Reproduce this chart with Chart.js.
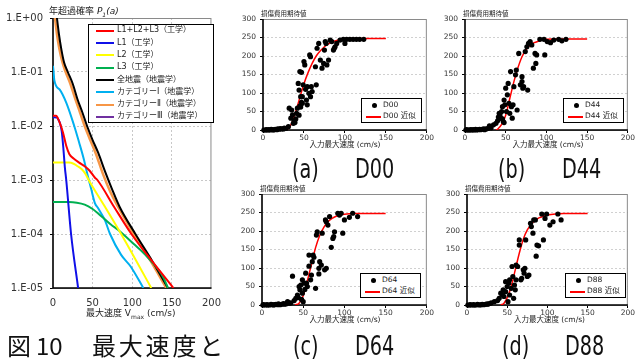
<!DOCTYPE html>
<html>
<head>
<meta charset="utf-8">
<script src="https://cdn.jsdelivr.net/npm/chart.js@4.4.0/dist/chart.umd.min.js"></script>
<style>
body { margin: 0; width: 636px; height: 359px; overflow: hidden; position: relative; background: #fff;
       font-family: "DejaVu Sans", "Noto Sans CJK JP", sans-serif; color: #222; }
canvas, .txt, .legend { position: absolute; }
.txt { white-space: nowrap; line-height: 1; }
.legend { background: #fff; border: 1px solid #000; box-sizing: border-box; }
.row { position: absolute; left: 0; white-space: nowrap; line-height: 1; }
.sample { position: absolute; height: 2px; }
.cap { position: absolute; font-size: 26px; line-height: 1; transform-origin: left top; transform: scaleX(0.74); color: #111; }
.big { position: absolute; font-family: "Noto Sans CJK JP", sans-serif; font-size: 24px; line-height: 1; color: #111; }
</style>
</head>
<body>
<canvas id="probChart" width="230" height="310" style="left:0;top:0"></canvas>
<canvas id="chartA" width="205" height="140" style="left:230px;top:5px"></canvas>
<canvas id="chartB" width="201" height="140" style="left:435px;top:5px"></canvas>
<canvas id="chartC" width="205" height="140" style="left:230px;top:180px"></canvas>
<canvas id="chartD" width="201" height="140" style="left:435px;top:180px"></canvas>

<div class="txt" style="left:49px;top:7px;font-size:9px">年超過確率 <i>P<sub style="font-size:6px">1</sub>(a)</i></div>
<div class="txt" style="left:86px;top:309px;font-size:9px">最大速度 V<sub style="font-size:6px">max</sub> (cm/s)</div>
<div id="probLegend" class="legend" style="left:88px;top:24px;width:126px;height:99px"></div>

<div class="big" style="left:7px;top:333px">図</div>
<div class="big" style="left:36px;top:333px">10</div>
<div class="big" style="left:92px;top:333px;letter-spacing:2.8px">最大速度と</div>

<div id="panelText"></div>

<script>
// Left chart: annual exceedance probability vs max velocity
const speedTicks = [0, 50, 100, 150, 200];
const probTicks = [1, 0.1, 0.01, 0.001, 0.0001, 0.00001];
const costTicks = [0, 50, 100, 150, 200, 250, 300];

const seriesNames = ['L1+L2+L3（工学）', 'L1（工学）', 'L2（工学）', 'L3（工学）',
    '全地震（地震学）', 'カテゴリーⅠ（地震学）', 'カテゴリーⅡ（地震学）', 'カテゴリーⅢ（地震学）'];
const seriesColors = ['#ff0000', '#1010e8', '#ffff00', '#00b050', '#000000', '#00b0f0', '#f79646', '#7030a0'];

// [velocity cm/s, probability]
const sumL = [[0,0.0155],[4,0.0155],[6,0.014],[9,0.011],[12.6,0.0076],[16.7,0.0043],[20.7,0.003],[26,0.0025],
    [33,0.0021],[40,0.0018],[46,0.0015],[53,0.0011],[56,0.001],[77,3.2e-4],[99,1e-4],[126,3e-5],[152,1e-5]];
const l1 = [[0,0.0145],[5,0.0143],[7,0.013],[9,0.011],[11,0.008],[13,0.004],[15,0.0017],[16.7,0.001],[22.8,1e-4],[31.7,1e-5]];
const l2 = [[0,0.0021],[10,0.0021],[20,0.0021],[26,0.002],[31,0.0018],[36,0.0016],[41,0.0013],[45,0.001],
    [65,3.3e-4],[86,1e-4],[105,3.2e-5],[124,1e-5]];
const l3 = [[0,3.9e-4],[20,3.9e-4],[30,3.8e-4],[40,3.5e-4],[50,2.9e-4],[57,2.4e-4],[65,1.9e-4],[73,1.5e-4],
    [82,1.2e-4],[90,9.5e-5],[102,6.5e-5],[114,4.5e-5],[125,3e-5],[134,2.1e-5],[140,1.5e-5],[145,1e-5]];
const allQuake = [[5,1],[6,0.75],[7.5,0.5],[10.6,0.26],[14,0.15],[18.7,0.1],[25,0.06],[31,0.031],[37,0.018],
    [43,0.01],[50,0.0055],[57,0.0032],[66,0.0014],[75,6.5e-4],[84,3.2e-4],[104,1e-4],[125,3.2e-5],[145,1e-5]];
const cat1 = [[0,0.13],[0.8,0.1],[1.6,0.071],[8.5,0.047],[16.7,0.027],[26.8,0.01],[32.9,0.005],[39,0.0024],
    [43,0.00135],[48,7e-4],[53,3.7e-4],[57,3e-4],[65.5,1.8e-4],[72,1e-4],[86,4.1e-5],[98,2.5e-5],[114,1e-5]];
const cat2 = [[2.5,1],[3.5,0.75],[5,0.5],[8,0.27],[12,0.15],[16,0.1],[22,0.06],[28,0.032],[34,0.018],[40,0.01],
    [47,0.0055],[54,0.0031],[63,0.0013],[72,6.2e-4],[82,3.2e-4],[102,1e-4],[123,3.2e-5],[143,1e-5]];
const cat3 = [];

// Right panels: [velocity, expected damage cost]
const d00Points = [[1,0],[3,0],[4,1],[6,0],[7,1],[9,0],[10,2],[12,1],[13,0],[15,2],[17,1],[18,3],[20,2],[21,4],[23,3],[25,3],[26,5],[28,4],
    [31,9],[32,59],[34,32],[35,54],[36,41],[37,18],[38,25],[39,20],[40,30],[41,45],[42,59],[43,126],[44,108],[44,40],[45,158],[45,65],
    [46,90],[46,62],[47,156],[47,75],[48,90],[48,72],[49,122],[50,185],[51,176],[52,110],[53,81],[54,68],[54,117],[56,99],[57,203],
    [58,90],[58,198],[59,117],[60,104],[64,171],[65,122],[66,221],[68,234],[70,189],[72,167],[74,180],[75,216],[76,239],[77,234],
    [78,176],[80,189],[82,243],[84,239],[86,216],[87,221],[88,225],[90,234],[94,243],[98,245],[100,234],[102,245],[106,245],
    [110,245],[114,245],[118,245],[123,245]];
const d00Fit = [[28,0],[30,2],[35,18],[40,50],[45,88],[50,125],[55,155],[60,180],[65,200],[70,214],[75,225],[80,233],[85,238],
    [90,242],[95,244],[100,246],[110,247],[120,247],[130,247],[140,247],[150,247]];

const d44Points = [[1,0],[2,1],[4,0],[5,0],[7,1],[8,0],[10,1],[11,0],[13,2],[14,0],[16,1],[18,2],[19,1],[21,2],[23,3],[24,1],[26,3],[28,4],
    [30,11],[32,6],[35,14],[38,18],[40,25],[41,35],[42,45],[43,41],[44,32],[45,50],[46,63],[46,30],[47,23],[48,81],[48,20],[49,68],
    [50,113],[51,50],[52,95],[53,126],[54,72],[55,45],[56,158],[57,63],[58,32],[59,68],[60,117],[62,149],[63,162],[64,54],[66,207],
    [68,122],[70,131],[70,144],[71,113],[72,117],[74,212],[76,225],[77,108],[78,234],[80,239],[82,230],[84,167],[86,207],[87,180],
    [88,203],[92,245],[97,245],[98,203],[101,239],[105,236],[109,243],[115,245],[119,241],[124,245]];
const d44Fit = [[38,0],[40,2],[45,15],[50,40],[55,85],[60,130],[65,168],[70,198],[75,217],[80,229],[85,236],[90,240],[95,243],
    [100,245],[110,246],[120,246],[130,246],[140,246],[150,246]];

const d64Points = [[1,0],[2,1],[4,0],[6,1],[7,0],[9,0],[11,2],[12,1],[14,0],[15,1],[17,2],[19,1],[20,3],[22,1],[24,2],[26,4],[27,2],[29,3],
    [31,9],[33,5],[35,6],[37,78],[39,12],[41,18],[43,27],[44,20],[45,50],[46,41],[47,54],[48,15],[49,32],[49,68],[50,9],[51,59],
    [52,42],[53,86],[54,59],[55,50],[57,105],[57,135],[59,68],[60,81],[61,117],[62,135],[63,129],[65,45],[66,189],[67,198],[69,84],
    [69,99],[70,117],[72,108],[73,194],[76,95],[77,230],[78,99],[78,225],[80,216],[82,239],[84,156],[86,180],[87,185],[88,198],
    [92,248],[94,243],[96,248],[98,194],[100,230],[106,237],[110,248],[116,239]];
const d64Fit = [[40,0],[45,5],[50,25],[55,65],[60,110],[65,155],[70,188],[75,210],[80,225],[85,234],[90,240],[95,243],[100,245],
    [110,247],[120,247],[130,247],[140,247],[150,247]];

const d88Points = [[1,0],[3,0],[4,1],[6,0],[8,1],[9,0],[11,0],[13,2],[14,1],[16,0],[18,1],[19,2],[21,1],[23,2],[25,3],[26,2],[28,4],
    [30,6],[34,9],[38,12],[40,18],[42,32],[44,27],[45,41],[46,23],[48,63],[48,36],[50,50],[51,9],[52,59],[53,27],[53,68],[55,45],
    [56,104],[57,77],[58,18],[59,54],[60,41],[61,68],[61,108],[63,104],[65,162],[65,176],[67,68],[68,72],[70,95],[71,86],[72,99],
    [73,176],[75,77],[77,81],[79,221],[80,212],[82,194],[83,230],[85,230],[86,132],[87,162],[89,160],[93,246],[95,176],[97,234],
    [99,246],[103,216],[107,225],[113,246],[117,230]];
const d88Fit = [[42,0],[46,5],[50,20],[55,50],[60,95],[65,140],[70,178],[75,203],[80,218],[85,229],[90,236],[95,240],[100,243],
    [110,246],[120,247],[130,247],[140,247],[150,247]];

const toXY = arr => arr.map(p => ({ x: p[0], y: p[1] }));

// Plot frame: grey box with black left and bottom axes
const framePlugin = {
    id: 'frame',
    beforeDatasetsDraw(chart) {
        const { ctx, chartArea: a } = chart;
        ctx.save();
        ctx.strokeStyle = '#8a8a8a';
        ctx.lineWidth = 1;
        ctx.strokeRect(a.left, a.top + 0.5, a.right - a.left - 0.5, a.bottom - a.top);
        ctx.strokeStyle = '#000';
        ctx.lineWidth = 1.5;
        ctx.beginPath();
        ctx.moveTo(a.left, a.top);
        ctx.lineTo(a.left, a.bottom);
        ctx.lineTo(a.right, a.bottom);
        ctx.stroke();
        ctx.restore();
    }
};

const leftSeries = [sumL, l1, l2, l3, allQuake, cat1, cat2, cat3];

new Chart(document.getElementById('probChart'), {
    type: 'line',
    data: {
        datasets: leftSeries.map((s, i) => ({
            label: seriesNames[i],
            data: toXY(s),
            borderColor: seriesColors[i],
            borderWidth: i === 6 ? 2.5 : 2,
            pointRadius: 0,
            cubicInterpolationMode: 'monotone',
            fill: false
        }))
    },
    options: {
        animation: false,
        responsive: false,
        layout: { autoPadding: false, padding: { top: 18, right: 13, left: 0, bottom: 0 } },
        plugins: { legend: { display: false }, tooltip: { enabled: false } },
        scales: {
            x: {
                type: 'linear', min: 0, max: 200,
                afterBuildTicks: s => { s.ticks = speedTicks.map(v => ({ value: v })); },
                afterFit: s => { s.height = 22; },
                grid: { color: ctx => (ctx.tick.value === 0 || ctx.tick.value === 200) ? 'transparent' : '#c8c8c8', drawTicks: false },
                border: { display: false, dash: [2, 2] },
                ticks: { padding: 9, color: '#333', font: { family: 'DejaVu Sans', size: 10 }, maxRotation: 0, autoSkip: false }
            },
            y: {
                type: 'logarithmic', min: 0.00001, max: 1,
                afterBuildTicks: s => { s.ticks = probTicks.map(v => ({ value: v })); },
                afterFit: s => { s.width = 53; },
                grid: { color: ctx => (ctx.tick.value === 1 || ctx.tick.value === 0.00001) ? 'transparent' : '#c8c8c8',
                        tickLength: 3, tickColor: '#000' },
                border: { display: false, dash: [2, 2] },
                ticks: {
                    padding: 7, color: '#333', font: { family: 'DejaVu Sans', size: 10 }, autoSkip: false,
                    callback: v => {
                        const e = Math.round(Math.log10(v));
                        return '1.E' + (e >= 0 ? '+' : '-') + String(Math.abs(e)).padStart(2, '0');
                    }
                }
            }
        }
    },
    plugins: [framePlugin]
});

// HTML legend for the left chart
const legendBox = document.getElementById('probLegend');
seriesNames.forEach((name, i) => {
    const row = document.createElement('div');
    row.className = 'row';
    row.style.top = (0.8 + i * 12.3) + 'px';
    row.style.height = '10px';
    row.style.width = '124px';
    row.innerHTML = `<span class="sample" style="left:7px;top:4px;width:18px;background:${seriesColors[i]}"></span>` +
        `<span style="position:absolute;left:28px;top:0.5px;font-size:8px">${name}</span>`;
    legendBox.appendChild(row);
});

// Right panels
function drawPanel(id, box, plot, points, fit, name, label) {
    new Chart(document.getElementById(id), {
        type: 'scatter',
        data: {
            datasets: [
                { label: name, data: toXY(points), backgroundColor: '#000', borderColor: '#000',
                  pointRadius: 2.6, pointBorderWidth: 0, clip: false },
                { label: name + ' 近似', data: toXY(fit), showLine: true, borderColor: '#ff0000', borderWidth: 1.5,
                  pointRadius: 0, cubicInterpolationMode: 'monotone', fill: false }
            ]
        },
        options: {
            animation: false,
            responsive: false,
            layout: { autoPadding: false,
                      padding: { top: plot.top - box.top, right: box.left + box.width - plot.right, left: 0, bottom: 0 } },
            plugins: { legend: { display: false }, tooltip: { enabled: false } },
            scales: {
                x: {
                    type: 'linear', min: 0, max: 200,
                    afterBuildTicks: s => { s.ticks = speedTicks.map(v => ({ value: v })); },
                    afterFit: s => { s.height = box.top + box.height - plot.bottom; },
                    grid: { drawOnChartArea: false, tickLength: 3, tickColor: '#000' },
                    border: { display: false },
                    ticks: { padding: 1, color: '#333', font: { family: 'DejaVu Sans', size: 7.5 }, maxRotation: 0, autoSkip: false }
                },
                y: {
                    min: 0, max: 300,
                    afterBuildTicks: s => { s.ticks = costTicks.map(v => ({ value: v })); },
                    afterFit: s => { s.width = plot.left - box.left; },
                    grid: { color: ctx => (ctx.tick.value === 0 || ctx.tick.value === 300) ? 'transparent' : '#d0d0d0',
                            tickLength: 3, tickColor: '#000' },
                    border: { display: false, dash: [2, 2] },
                    ticks: { padding: 4, color: '#333', font: { family: 'DejaVu Sans', size: 7.5 }, autoSkip: false }
                }
            }
        },
        plugins: [framePlugin]
    });

    const holder = document.getElementById('panelText');
    const mid = (plot.left + plot.right) / 2;
    holder.insertAdjacentHTML('beforeend',
        `<div class="txt" style="left:${plot.left - 2}px;top:${plot.top - 8}px;font-size:6.5px">損傷費用期待値</div>` +
        `<div class="txt" style="left:${mid - 38}px;top:${plot.bottom + 11}px;font-size:7.5px;width:76px;text-align:center">入力最大速度 (cm/s)</div>` +
        `<div class="legend" style="left:${plot.left + 98}px;top:${plot.bottom - 32}px;width:61px;height:25px">` +
        `<span style="position:absolute;left:10px;top:4px;width:5px;height:5px;border-radius:50%;background:#000"></span>` +
        `<span style="position:absolute;left:21px;top:2px;font-size:7.5px;line-height:1">${name}</span>` +
        `<span style="position:absolute;left:4px;top:17px;width:15px;height:1.5px;background:#ff0000"></span>` +
        `<span style="position:absolute;left:21px;top:13px;font-size:7.5px;line-height:1">${name} 近似</span></div>` +
        `<div class="cap" style="left:${label.x1}px;top:${label.y}px">(${label.tag})</div>` +
        `<div class="cap" style="left:${label.x2}px;top:${label.y}px">${name}</div>`);
}

drawPanel('chartA', { left: 230, top: 5, width: 205, height: 140 }, { left: 263, right: 427, top: 19, bottom: 130 },
    d00Points, d00Fit, 'D00', { tag: 'a', x1: 292, x2: 355, y: 156 });
drawPanel('chartB', { left: 435, top: 5, width: 201, height: 140 }, { left: 465, right: 631, top: 19, bottom: 130 },
    d44Points, d44Fit, 'D44', { tag: 'b', x1: 498, x2: 562, y: 156 });
drawPanel('chartC', { left: 230, top: 180, width: 205, height: 140 }, { left: 262, right: 428, top: 194, bottom: 305 },
    d64Points, d64Fit, 'D64', { tag: 'c', x1: 293, x2: 355, y: 333 });
drawPanel('chartD', { left: 435, top: 180, width: 201, height: 140 }, { left: 467, right: 632, top: 194, bottom: 305 },
    d88Points, d88Fit, 'D88', { tag: 'd', x1: 502, x2: 565, y: 333 });
</script>
</body>
</html>
